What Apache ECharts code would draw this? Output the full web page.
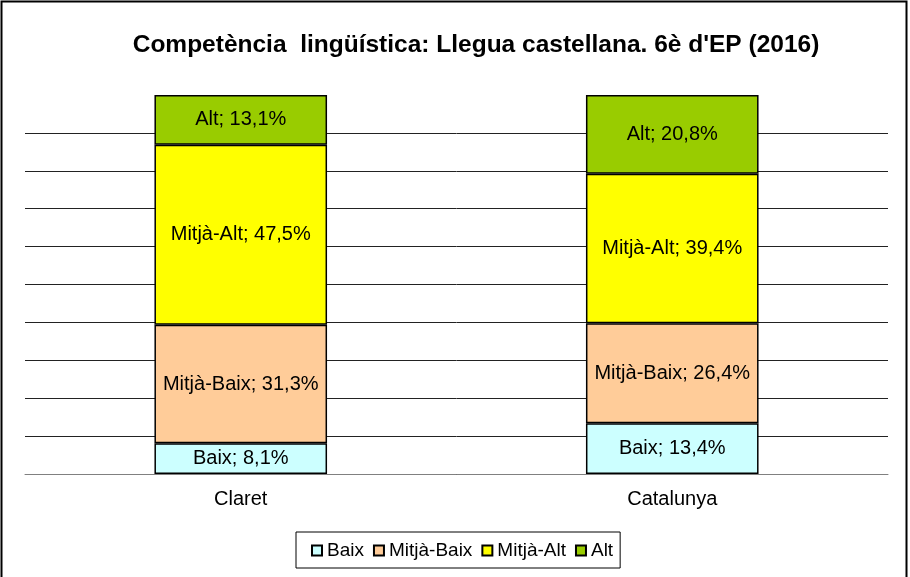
<!DOCTYPE html>
<html>
<head>
<meta charset="utf-8">
<script src="https://cdn.jsdelivr.net/npm/echarts@6/dist/echarts.min.js"></script>
<style>
  html, body { margin: 0; padding: 0; background: #fff; }
  #chart { width: 910px; height: 577px; }
</style>
</head>
<body>
<div id="chart"></div>
<script>
// dades
const categories = ['Claret', 'Catalunya']
const levels = ['Baix', 'Mitjà-Baix', 'Mitjà-Alt', 'Alt']
const baix = [8.1, 13.4]
const mitjaBaix = [31.3, 26.4]
const mitjaAlt = [47.5, 39.4]
const alt = [13.1, 20.8]
const levelColors = ['#CCFFFF', '#FFCC99', '#FFFF00', '#99CC00']

const seriesValues = [baix, mitjaBaix, mitjaAlt, alt]
const font = 'Arial, "Liberation Sans", sans-serif'

const chart = echarts.init(document.getElementById('chart'))

const option = {
  animation: false,
  backgroundColor: '#fff',
  title: {
    text: "Competència  lingüística: Llegua castellana. 6è d'EP (2016)",
    left: 471,
    textAlign: 'center',
    top: 28,
    textStyle: { fontFamily: font, fontSize: 24.5, fontWeight: 'bold', color: '#000' },
  },
  legend: {
    data: levels,
    left: 296,
    top: 532,
    padding: [9, 7, 8, 15],
    itemGap: 9,
    itemWidth: 10,
    itemHeight: 10,
    icon: 'rect',
    borderColor: '#000',
    borderWidth: 1,
    textStyle: { fontFamily: font, fontSize: 19, color: '#000' },
  },
  grid: {
    left: 25,
    right: 22,
    top: 95,
    bottom: 103,
  },
  xAxis: {
    type: 'category',
    data: categories,
    axisLine: { lineStyle: { color: '#808080', width: 1 } },
    axisTick: { length: 5, lineStyle: { color: '#808080' } },
    axisLabel: { fontFamily: font, fontSize: 20, color: '#000', margin: 15 },
  },
  yAxis: {
    type: 'value',
    min: 0,
    max: 100,
    interval: 10,
    axisLabel: { show: false },
    axisLine: { show: false },
    axisTick: { show: false },
    splitLine: {
      show: true,
      showMaxLine: false,
      lineStyle: { color: '#222', width: 1 },
    },
  },
  graphic: [
    {
      type: 'rect',
      shape: { x: 1.5, y: 1.5, width: 905, height: 610 },
      style: { fill: 'none', stroke: '#000', lineWidth: 2 },
      silent: true,
    },
  ],
  series: levels.map((name, i) => ({
    name,
    type: 'bar',
    stack: 'total',
    barWidth: '40%',
    data: seriesValues[i],
    itemStyle: {
      color: levelColors[i],
      borderColor: '#000',
      borderWidth: 1.5,
    },
    label: {
      show: true,
      position: 'inside',
      fontFamily: font,
      fontSize: 20,
      color: '#000',
      formatter: (p) => p.seriesName + '; ' + p.value.toFixed(1).replace('.', ',') + '%',
    },
  })),
}

chart.setOption(option)
</script>
</body>
</html>
